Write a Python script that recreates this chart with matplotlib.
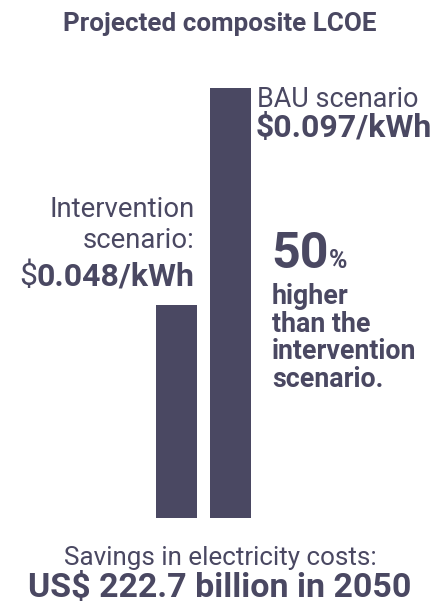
import matplotlib.pyplot as plt

plt.rcParams['font.family'] = ['Roboto', 'DejaVu Sans']
plt.rcParams['text.parse_math'] = False

# data
scenarios = ['Intervention', 'BAU']
lcoe = [0.048, 0.097]          # $/kWh
uplift_pct = 50
savings_bn = 222.7
savings_year = 2050
note_lines = ['higher', 'than the', 'intervention', 'scenario.']

INK = '#4a4862'
W, H = 441, 611


def pt(px):
    # em size in pixels -> points at 100 dpi
    return px * 0.72


fig = plt.figure(figsize=(W / 100, H / 100), dpi=100)

# bar axes: baseline at y=518px, top of tallest bar at y=88px
bw = 41 / 54
axb = fig.add_axes([156 / W, (H - 518) / H, 95 / W, 430 / H])
axb.bar(range(len(lcoe)), lcoe, width=bw, color=INK)
axb.set_xlim(-bw / 2, len(lcoe) - 1 + bw / 2)
axb.set_ylim(0, max(lcoe))
axb.axis('off')

# text layer in pixel coordinates
ax = fig.add_axes([0, 0, 1, 1])
ax.set_xlim(0, W)
ax.set_ylim(H, 0)
ax.axis('off')
ax.patch.set_alpha(0)

ax.text(220, 31, 'Projected composite LCOE', ha='center', va='baseline',
        fontsize=pt(26), fontweight='bold', color=INK)

# BAU label
ax.text(257, 107, f'{scenarios[1]} scenario', ha='left', va='baseline',
        fontsize=pt(27), color=INK)
ax.text(256, 137, f'${lcoe[1]:.3f}/kWh', ha='left', va='baseline',
        fontsize=pt(32), fontweight='bold', color=INK)

# Intervention label
ax.text(195, 217, scenarios[0], ha='right', va='baseline',
        fontsize=pt(27.5), color=INK)
ax.text(195, 248, 'scenario:', ha='right', va='baseline',
        fontsize=pt(27.5), color=INK)
t_int = ax.text(195, 285, f'{lcoe[0]:.3f}/kWh', ha='right', va='baseline',
                fontsize=pt(32), fontweight='bold', color=INK)

# big percentage
t50 = ax.text(271, 268, f'{uplift_pct}', ha='left', va='baseline',
              fontsize=pt(50), fontweight='bold', color=INK)

for i, line in enumerate(note_lines):
    ax.text(272, 304 + 27.7 * i, line, ha='left', va='baseline',
            fontsize=pt(26.8), fontweight='bold', color=INK)

ax.text(220, 565, 'Savings in electricity costs:', ha='center', va='baseline',
        fontsize=pt(26), color=INK)
ax.text(220, 597, f'US$ {savings_bn} billion in {savings_year}', ha='center',
        va='baseline', fontsize=pt(34), fontweight='bold', color=INK)

# attach the small pieces next to the measured texts
fig.canvas.draw()
bb = t_int.get_window_extent()
ax.text(bb.x0, 285, '$', ha='right', va='baseline',
        fontsize=pt(32), color=INK)
bb = t50.get_window_extent()
ax.text(bb.x1, 268, '%', ha='left', va='baseline',
        fontsize=pt(25), fontweight='bold', color=INK)

fig.savefig('out.png', dpi=100)
